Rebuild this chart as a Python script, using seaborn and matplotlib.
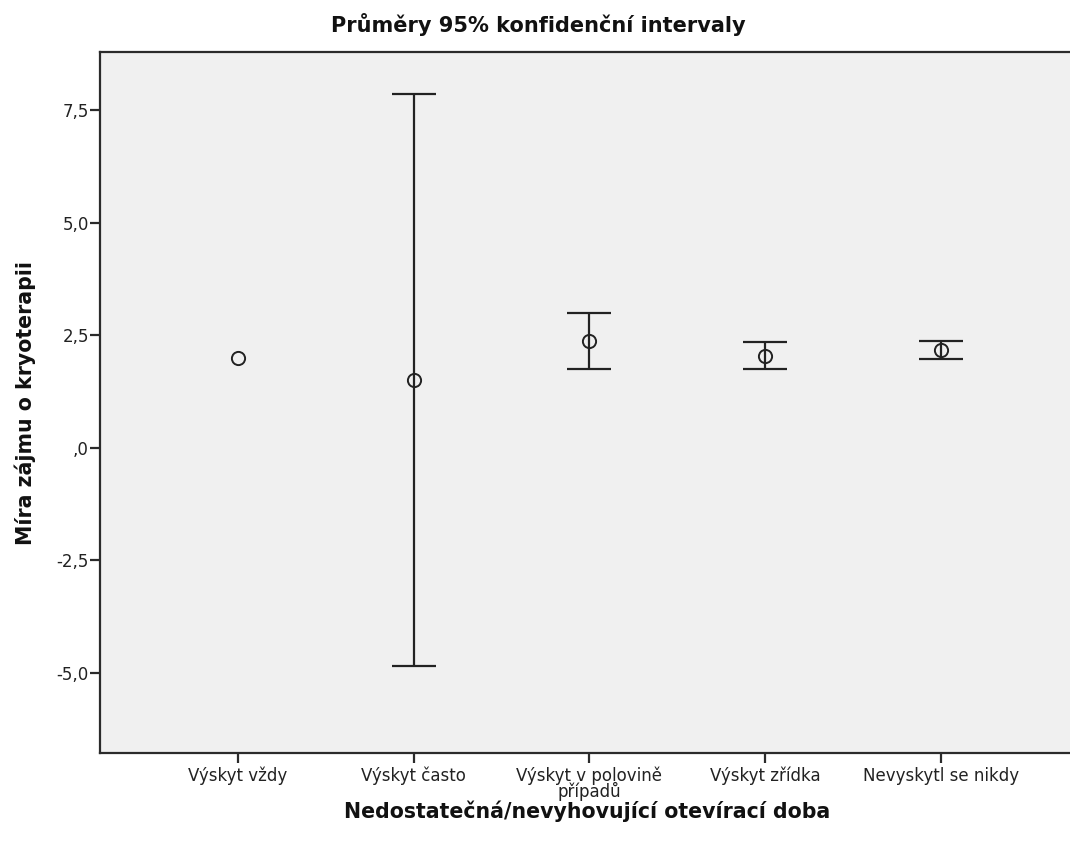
import matplotlib
matplotlib.use("Agg")
import matplotlib.pyplot as plt
import seaborn as sns
import numpy as np
import pandas as pd

# Data
categories = ["Výskyt vždy", "Výskyt často", "Výskyt v polovině\npřípadů", "Výskyt zřídka", "Nevyskytl se nikdy"]
means = [2.0, 1.5, 2.37, 2.04, 2.17]
ci_low = [np.nan, -4.85, 1.75, 1.75, 1.98]
ci_high = [np.nan, 7.86, 2.99, 2.34, 2.36]

y_ticks = [-5.0, -2.5, 0.0, 2.5, 5.0, 7.5]
y_tick_labels = ["-5,0", "-2,5", ",0", "2,5", "5,0", "7,5"]

df = pd.DataFrame({"cat": categories, "mean": means, "low": ci_low, "high": ci_high})

sns.set_style("white")
plt.rcParams["font.family"] = ["DejaVu Sans"]

fig = plt.figure(figsize=(10.7, 8.51), dpi=100)
ax = fig.add_axes([100 / 1070, 1 - 753 / 851, 970 / 1070, (753 - 52) / 851])
ax.set_facecolor("#f0f0f0")

# confidence intervals
xpos = np.arange(len(df))
ax.errorbar(xpos, df["mean"], yerr=[df["mean"] - df["low"], df["high"] - df["mean"]],
            fmt="none", ecolor="#222222", elinewidth=1.6, capsize=16, capthick=1.6, zorder=2)

# means
sns.pointplot(data=df, x="cat", y="mean", ax=ax, linestyle="none", marker="o",
              markersize=9.5, markerfacecolor="none", markeredgecolor="#222222",
              markeredgewidth=1.4, color="#222222", errorbar=None, zorder=3)

ax.set_xlim(-0.786, 4.735)
ax.set_ylim(-6.78, 8.79)
ax.set_yticks(y_ticks)
ax.set_yticklabels(y_tick_labels)
ax.set_xticks(xpos)
ax.set_xticklabels(categories, linespacing=0.78)

for s in ["left", "bottom", "top"]:
    ax.spines[s].set_color("#2b2b2b")
    ax.spines[s].set_linewidth(1.6)
ax.spines["right"].set_visible(False)

ax.tick_params(axis="both", direction="out", length=7, width=1.6, color="#2b2b2b",
               labelsize=12, labelcolor="#222222", left=True, bottom=True)
ax.tick_params(axis="y", pad=1)
ax.tick_params(axis="x", pad=3)
ax.set_xlabel("")
ax.set_ylabel("")

fig.text(0.503, 1 - 25 / 851, "Průměry 95% konfidenční intervaly", ha="center", va="center",
         fontsize=15, fontweight="bold", color="#111111")
fig.text(587 / 1070, 1 - 811 / 851, "Nedostatečná/nevyhovující otevírací doba", ha="center",
         va="center", fontsize=14.8, fontweight="bold", color="#111111")
fig.text(25 / 1070, 1 - 403 / 851, "Míra zájmu o kryoterapii", ha="center", va="center",
         rotation=90, fontsize=14.8, fontweight="bold", color="#111111")

fig.savefig("out.png", dpi=100, facecolor="white")
